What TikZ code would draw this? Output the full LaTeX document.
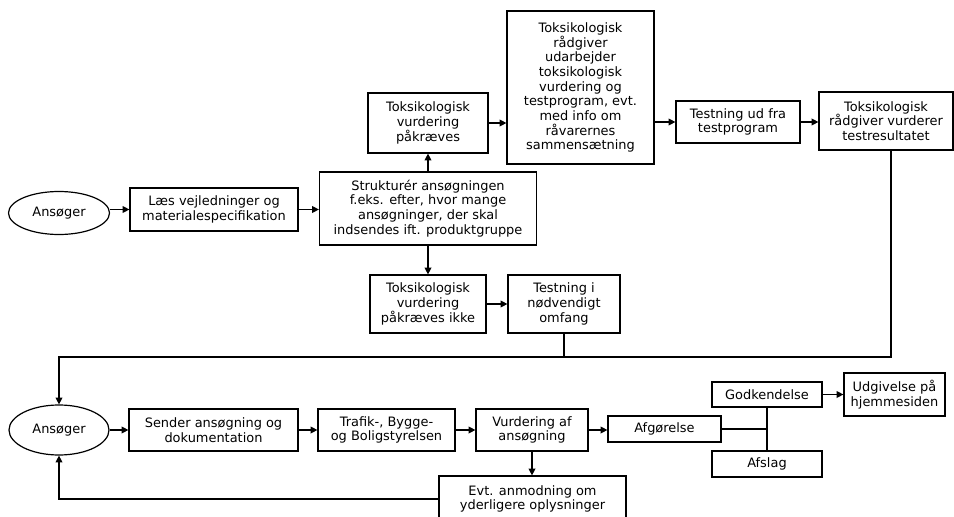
\documentclass[tikz,border=0pt]{standalone}
\usepackage{fontspec}
\setmainfont{DejaVu Sans}
\usetikzlibrary{arrows.meta,shapes.geometric}
\tikzset{
  box/.style={draw, line width=0.9pt, align=center, inner sep=0pt,
    font=\fontsize{9.7}{11}\selectfont},
  oval/.style={draw, ellipse, line width=0.9pt, inner sep=0pt,
    font=\fontsize{9.7}{11}\selectfont},
  conn/.style={line width=0.9pt},
  arr/.style={line width=0.9pt, -{Triangle[length=5pt,width=5pt]}}
}
\begin{document}
\begin{tikzpicture}[x=0.75pt,y=-0.75pt]
\useasboundingbox (0,0) rectangle (954,517);
\clip (0,0) rectangle (954,517);
% top part
\node[oval, minimum width=101*0.75pt, minimum height=43*0.75pt] (e1) at (59,213) {Ansøger};
\node[box, minimum width=168*0.75pt, minimum height=43*0.75pt] (les) at (214,209.5) {Læs vejledninger og\\materialespecifikation};
\node[box, minimum width=217*0.75pt, minimum height=73*0.75pt] (str) at (428,208.5) {Strukturér ansøgningen\\f.eks. efter, hvor mange\\ansøgninger, der skal\\indsendes ift. produktgruppe};
\node[box, minimum width=120*0.75pt, minimum height=60*0.75pt] (pak) at (428,123) {Toksikologisk\\vurdering\\påkræves};
\node[box, minimum width=147*0.75pt, minimum height=153*0.75pt] (tall) at (580.5,87.5) {Toksikologisk\\rådgiver\\udarbejder\\toksikologisk\\vurdering og\\testprogram, evt.\\med info om\\råvarernes\\sammensætning};
\node[box, minimum width=124*0.75pt, minimum height=42*0.75pt] (test) at (738,122) {Testning ud fra\\testprogram};
\node[box, minimum width=134*0.75pt, minimum height=58*0.75pt] (tr) at (886,121) {Toksikologisk\\rådgiver vurderer\\testresultatet};
\node[box, minimum width=116*0.75pt, minimum height=58*0.75pt] (ikke) at (428,304) {Toksikologisk\\vurdering\\påkræves ikke};
\node[box, minimum width=112*0.75pt, minimum height=58*0.75pt] (tn) at (564,304) {Testning i\\nødvendigt\\omfang};
\coordinate (j1) at (891,357);
% bottom part
\node[oval, minimum width=100*0.75pt, minimum height=50*0.75pt] (e2) at (59,430) {Ansøger};
\node[box, minimum width=169*0.75pt, minimum height=42*0.75pt] (send) at (213.5,430) {Sender ansøgning og\\dokumentation};
\node[box, minimum width=137*0.75pt, minimum height=42*0.75pt] (trafik) at (386.5,430) {Trafik-, Bygge-\\og Boligstyrelsen};
\node[box, minimum width=112*0.75pt, minimum height=42*0.75pt] (vurd) at (532,430) {Vurdering af\\ansøgning};
\node[box, minimum width=113*0.75pt, minimum height=26*0.75pt] (afg) at (664.5,429) {Afgørelse};
\node[box, minimum width=110*0.75pt, minimum height=25*0.75pt] (god) at (767,394.5) {Godkendelse};
\node[box, minimum width=110*0.75pt, minimum height=26*0.75pt] (afs) at (767,464) {Afslag};
\node[box, minimum width=101*0.75pt, minimum height=43*0.75pt] (udg) at (894.5,394.5) {Udgivelse på\\hjemmesiden};
\node[box, minimum width=187*0.75pt, minimum height=46*0.75pt] (evt) at (532.5,499) {Evt. anmodning om\\yderligere oplysninger};
% connectors top
\draw[arr] (e1.east |- les.west) -- (les.west);
\draw[arr] (les.east) -- (les.east -| str.west);
\draw[arr] (str.north) -- (pak.south);
\draw[arr] (pak.east) -- (pak.east -| tall.west);
\draw[arr] (tall.east |- test.west) -- (test.west);
\draw[arr] (test.east) -- (test.east -| tr.west);
\draw[arr] (str.south) -- (ikke.north);
\draw[arr] (ikke.east) -- (ikke.east -| tn.west);
\draw[conn] (tn.south) -- (tn.south |- j1);
\draw[arr] (tr.south -| j1) -- (j1) -- (j1 -| e2) -- (e2.north);
% connectors bottom
\draw[arr] (e2.east) -- (send.west);
\draw[arr] (send.east) -- (trafik.west);
\draw[arr] (trafik.east) -- (vurd.west);
\draw[arr] (vurd.east) -- (vurd.east -| afg.west);
\draw[arr] (vurd.south) -- (evt.north -| vurd.south);
\draw[arr] (evt.west) -| (e2.south);
\draw[conn] (afg.east) -- (afg.east -| god.south);
\draw[conn] (god.south) -- (afs.north);
\draw[arr] (god.east) -- (udg.west |- god.east);
\end{tikzpicture}
\end{document}
